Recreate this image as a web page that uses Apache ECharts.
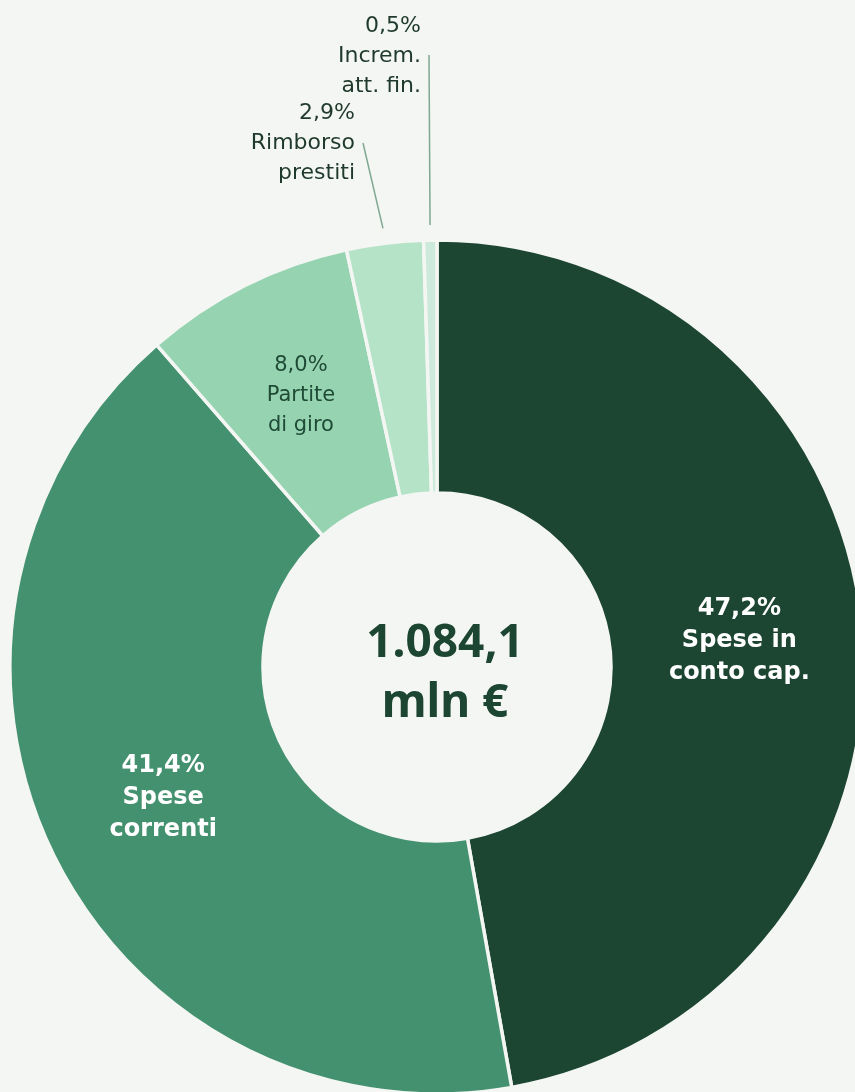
<!DOCTYPE html>
<html>
<head>
<meta charset="utf-8">
<script src="https://cdn.jsdelivr.net/npm/echarts@6/dist/echarts.min.js"></script>
<style>
  html, body { margin: 0; padding: 0; background: #f4f6f3; }
  #chart { width: 855px; height: 1092px; }
</style>
</head>
<body>
<div id="chart"></div>
<script>
// Spending breakdown (shares in %)
const categories = ['Spese in\nconto cap.', 'Spese\ncorrenti', 'Partite\ndi giro', 'Rimborso\nprestiti', 'Increm.\natt. fin.'];
const shares = [47.2, 41.4, 8.0, 2.9, 0.5];
const colors = ['#1c4532', '#43916e', '#96d4b1', '#b5e3c8', '#cde9dc'];
const totalLabel = ['1.084,1', 'mln €'];

const LABEL_FONT = '"DejaVu Sans", "Noto Sans", sans-serif';
const TITLE_FONT = '"Noto Sans", "DejaVu Sans", sans-serif';
const BG = '#f4f6f3';
const CENTER = [437, 667];
const RADIUS = [174, 427];

const fmt = v => v.toFixed(1).replace('.', ',') + '%';

// Outside label anchors (right edge, middle line) for the two thin slices
const outsideLabels = {
  3: { x: 355, y: 143, end: [363, 143] },
  4: { x: 421, y: 56, end: [429, 55] }
};

// Mid angle of each slice, clockwise from 12 o'clock, in radians
const total = shares.reduce((a, b) => a + b, 0);
const midAngles = [];
shares.reduce((acc, v) => {
  midAngles.push(((acc + v / 2) / total) * 2 * Math.PI);
  return acc + v;
}, 0);

const data = categories.map((name, i) => {
  const item = { name, value: shares[i], itemStyle: { color: colors[i] } };
  if (i <= 1) {
    item.label = { color: '#ffffff', fontWeight: 700, fontSize: 24, lineHeight: 32 };
  } else if (i === 2) {
    item.label = { color: '#1f4a36', fontWeight: 400, fontSize: 21, lineHeight: 30 };
  } else {
    item.label = { position: 'outside', color: '#1f3a2d', fontWeight: 400, fontSize: 22, lineHeight: 30, align: 'right' };
    item.labelLine = { show: true, lineStyle: { color: '#7fa892', width: 1.5 } };
  }
  return item;
});

const chart = echarts.init(document.getElementById('chart'));
chart.setOption({
  backgroundColor: BG,
  animation: false,
  title: {
    text: totalLabel.join('\n'),
    left: 440,
    top: 609,
    textAlign: 'center',
    textStyle: { fontFamily: TITLE_FONT, fontSize: 46, fontWeight: 'bold', color: '#1c4532', lineHeight: 60 }
  },
  series: [{
    type: 'pie',
    center: CENTER,
    radius: RADIUS,
    startAngle: 90,
    clockwise: true,
    avoidLabelOverlap: false,
    itemStyle: { borderColor: BG, borderWidth: 3.5 },
    label: {
      show: true,
      position: 'inside',
      fontFamily: LABEL_FONT,
      formatter: p => fmt(p.value) + '\n' + p.name
    },
    labelLine: { show: false },
    labelLayout: p => {
      const pos = outsideLabels[p.dataIndex];
      if (!pos) return {};
      const a = midAngles[p.dataIndex];
      const r = RADIUS[1] + 15;
      const start = [CENTER[0] + r * Math.sin(a), CENTER[1] - r * Math.cos(a)];
      return {
        x: pos.x, y: pos.y, align: 'right', verticalAlign: 'middle',
        labelLinePoints: [start, pos.end, pos.end]
      };
    },
    data
  }]
});
</script>
</body>
</html>
